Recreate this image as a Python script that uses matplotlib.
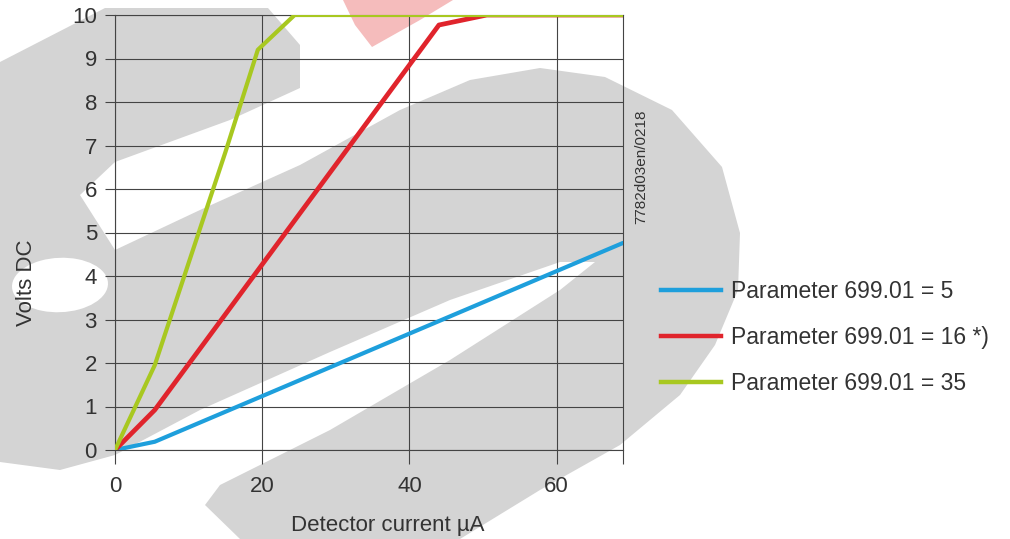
import matplotlib
matplotlib.use('Agg')
import matplotlib.pyplot as plt
from matplotlib.patches import Polygon, Ellipse
from matplotlib.lines import Line2D

plt.rcParams['font.family'] = ['Liberation Sans', 'DejaVu Sans']

# Data
current_blue = [0, 5.4, 69]
volts_blue = [0, 0.19, 4.76]

current_red = [0, 5.4, 44, 50.5, 69]
volts_red = [0, 0.92, 9.77, 10, 10]

current_green = [0, 5.4, 10, 15, 19.4, 24.4, 69]
volts_green = [0, 1.95, 4.3, 6.85, 9.2, 10, 10]

labels = ['Parameter 699.01 = 5', 'Parameter 699.01 = 16 *)', 'Parameter 699.01 = 35']
colors = ['#1e9fdc', '#e0242c', '#a8c820']
x_ticks = [0, 20, 40, 60]
y_ticks = list(range(0, 11))

W, H = 1010, 539
fig = plt.figure(figsize=(W / 100, H / 100), dpi=100)
fig.patch.set_facecolor('white')


def fp(pts):
    return [(x / W, 1 - y / H) for x, y in pts]


# Background watermark (rough outline of the stippled logo)
wm = [(0, 62), (105, 8), (268, 8), (300, 45), (300, 88), (230, 120), (115, 162),
      (80, 195), (115, 250), (200, 210), (300, 165), (400, 110), (470, 80),
      (540, 68), (605, 77), (672, 110), (722, 167), (740, 233), (738, 290),
      (715, 345), (680, 395), (620, 445), (540, 490), (460, 539), (240, 539),
      (205, 505), (220, 485), (330, 430), (450, 360), (560, 290), (595, 262),
      (560, 262), (450, 300), (330, 352), (200, 410), (115, 455), (60, 470),
      (0, 462)]
fig.patches.append(Polygon(fp(wm), closed=True, transform=fig.transFigure,
                           facecolor='#d4d4d4', edgecolor='none', zorder=0))
fig.patches.append(Ellipse((60 / W, 1 - 285 / H), 95 / W, 55 / H, angle=-20,
                           transform=fig.transFigure, facecolor='white',
                           edgecolor='none', zorder=0))
red_mark = [(343, 0), (453, 0), (420, 20), (372, 47), (355, 25)]
fig.patches.append(Polygon(fp(red_mark), closed=True, transform=fig.transFigure,
                           facecolor='#f5bcbc', edgecolor='none', zorder=0))

ax = fig.add_axes([115 / W, 1 - 450 / H, 508 / W, 435 / H])
ax.set_facecolor('none')
ax.set_zorder(2)

ax.plot(current_blue, volts_blue, color=colors[0], lw=3.0, solid_capstyle='round', zorder=3)
ax.plot(current_red, volts_red, color=colors[1], lw=3.4, solid_capstyle='round', zorder=4)
ax.plot(current_green, volts_green, color=colors[2], lw=3.0, solid_capstyle='round', zorder=5)

ax.set_xlim(0, 69)
ax.set_ylim(0, 10)
ax.set_xticks(x_ticks)
ax.set_xticks([69], minor=True)
ax.set_yticks(y_ticks)
ax.grid(True, color='#444444', lw=0.8)
ax.set_axisbelow(False)
for s in ax.spines.values():
    s.set_color('#444444')
    s.set_linewidth(0.8)
ax.tick_params(axis='both', which='both', direction='out', colors='#444444',
               labelcolor='#333333', labelsize=16, width=0.8)
ax.tick_params(axis='y', length=7, pad=6)
ax.tick_params(axis='x', which='both', length=10, pad=9)

fig.text(27 / W, 1 - 283 / H, 'Volts DC', rotation=90, ha='center', va='center',
         fontsize=16, color='#333333', zorder=3)
fig.text(388 / W, 1 - 526 / H, 'Detector current µA', ha='center', va='center',
         fontsize=16, color='#333333', zorder=3)
fig.text(641 / W, 1 - 167 / H, '7782d03en/0218', rotation=90, ha='center',
         va='center', fontsize=11, color='#333333', zorder=3)

handles = [Line2D([0], [0], color=c, lw=3.2) for c in colors]
leg = fig.legend(handles, labels, loc='upper left', bbox_to_anchor=(661 / W, 1 - 280 / H),
                 frameon=False, fontsize=16.5, handlelength=2.6, handletextpad=0.45,
                 labelspacing=1.0, borderpad=0, borderaxespad=0, labelcolor='#333333')
leg.set_zorder(3)

fig.savefig('out.png', dpi=100, facecolor='white')
